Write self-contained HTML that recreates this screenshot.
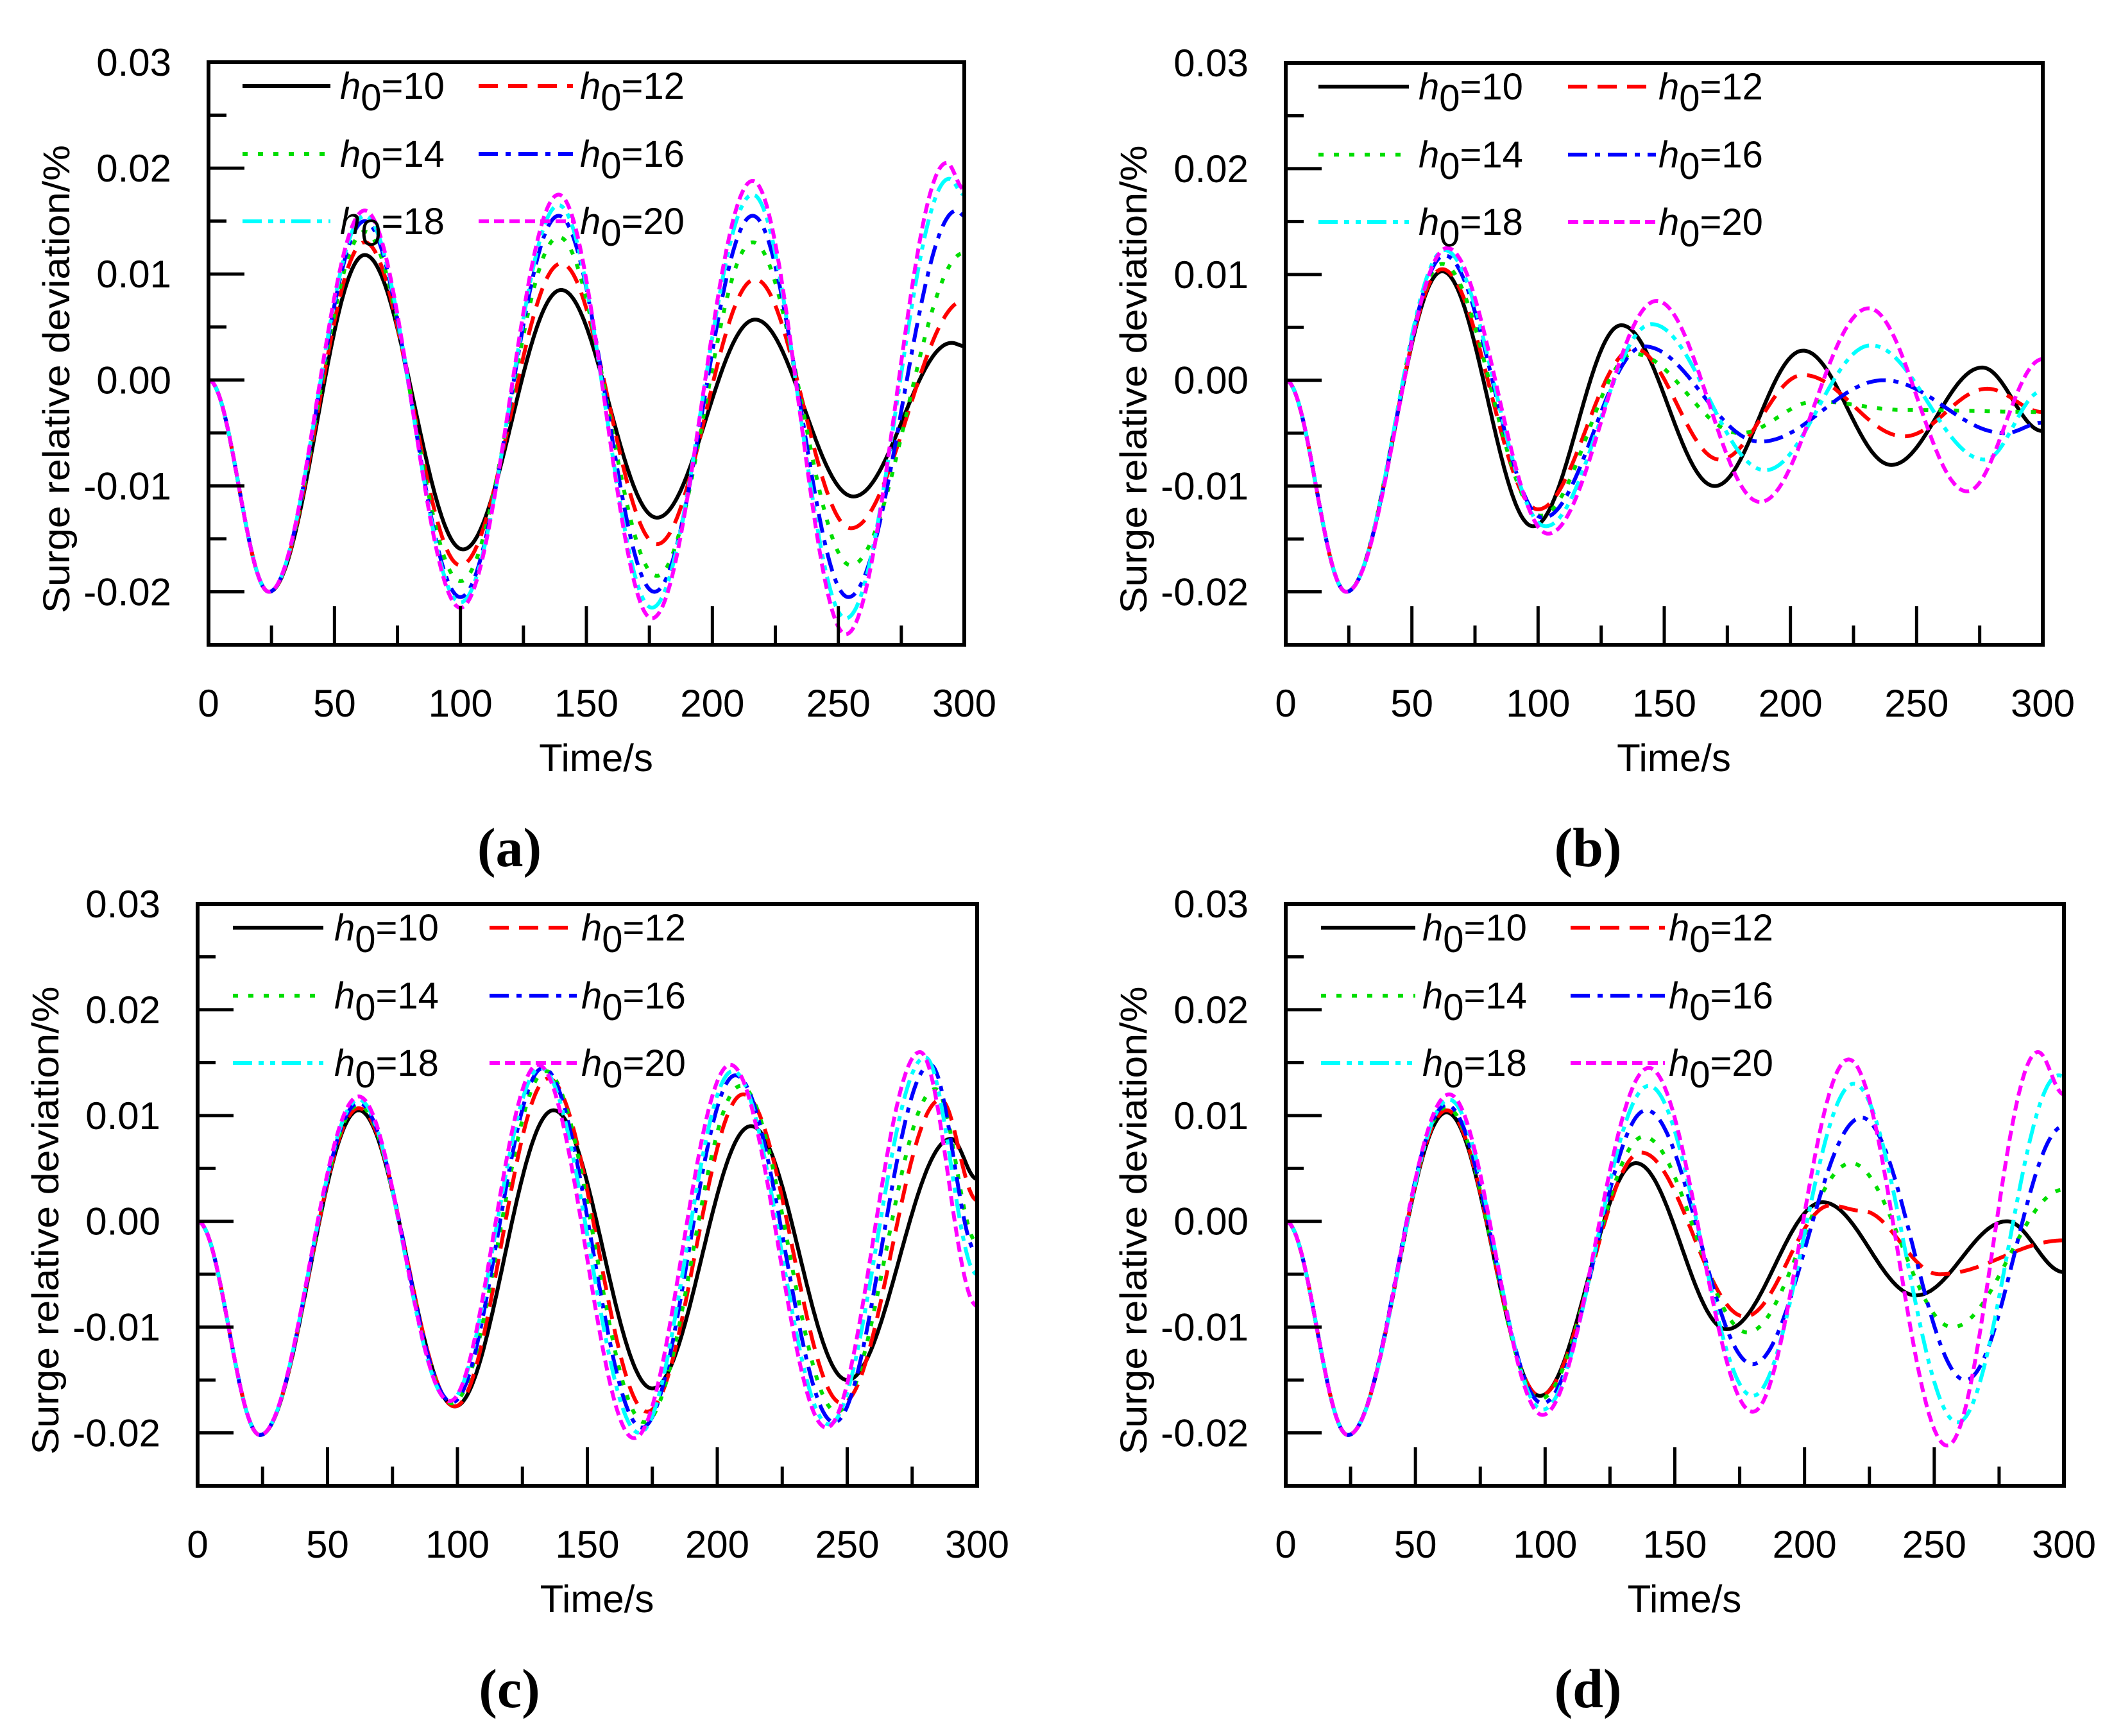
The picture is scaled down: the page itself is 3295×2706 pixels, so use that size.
<!DOCTYPE html>
<html><head><meta charset="utf-8"><style>
html,body{margin:0;padding:0;background:#fff}
svg{display:block}
text{font-family:"Liberation Sans",sans-serif;fill:#000}
</style></head><body>
<svg id="fig" width="3295" height="2706" viewBox="0 0 3295 2706" xmlns="http://www.w3.org/2000/svg"></svg>
<script>
// ---- data (time in s, surge relative deviation in %) at local extrema ----
const xTicks = [0, 50, 100, 150, 200, 250, 300];
const yTicks = [-0.02, -0.01, 0.00, 0.01, 0.02, 0.03];
const yTickLabels = ["-0.02", "-0.01", "0.00", "0.01", "0.02", "0.03"];
const seriesNames = ["10", "12", "14", "16", "18", "20"];

// panel a
const a_h10_t = [0,24,62,101,140,178,217,256,295,300];
const a_h10_v = [0,-0.0200,0.0118,-0.0160,0.0085,-0.0130,0.0057,-0.0110,0.0035,0.0032];
const a_h12_t = [0,24,62,100,140,178,217,255,300];
const a_h12_v = [0,-0.0200,0.0130,-0.0175,0.0110,-0.0155,0.0095,-0.0140,0.0075];
const a_h14_t = [0,24,62,100,139,178,216,255,300];
const a_h14_v = [0,-0.0200,0.0140,-0.0190,0.0135,-0.0185,0.0130,-0.0175,0.0120];
const a_h16_t = [0,24,62,100,139,177,216,254,297,300];
const a_h16_v = [0,-0.0200,0.0150,-0.0205,0.0155,-0.0200,0.0155,-0.0205,0.0160,0.0155];
const a_h18_t = [0,24,62,100,139,176,216,253,294,300];
const a_h18_v = [0,-0.0200,0.0155,-0.0210,0.0165,-0.0215,0.0175,-0.0225,0.0190,0.0175];
const a_h20_t = [0,24,62,100,139,176,216,253,293,300];
const a_h20_v = [0,-0.0200,0.0160,-0.0215,0.0175,-0.0225,0.0188,-0.0240,0.0205,0.0180];

// panel b
const b_h10_t = [0,24,62,98,133,170,205,240,276,300];
const b_h10_v = [0,-0.0200,0.0103,-0.0138,0.0052,-0.0100,0.0028,-0.0080,0.0012,-0.0048];
const b_h12_t = [0,24,62,100,138,172,205,245,278,300];
const b_h12_v = [0,-0.0200,0.0105,-0.0122,0.0030,-0.0075,0.0005,-0.0053,-0.0008,-0.0030];
const b_h14_t = [0,24,62,101,138,180,210,245,300];
const b_h14_v = [0,-0.0200,0.0110,-0.0128,0.0025,-0.0050,-0.0020,-0.0028,-0.0030];
const b_h16_t = [0,24,63,102,142,188,237,285,300];
const b_h16_v = [0,-0.0200,0.0118,-0.0130,0.0032,-0.0058,0.0000,-0.0050,-0.0040];
const b_h18_t = [0,24,63,103,145,190,232,277,300];
const b_h18_v = [0,-0.0200,0.0123,-0.0138,0.0053,-0.0085,0.0033,-0.0075,-0.0010];
const b_h20_t = [0,24,64,104,147,188,231,270,300];
const b_h20_v = [0,-0.0200,0.0125,-0.0145,0.0075,-0.0115,0.0068,-0.0105,0.0020];

// panel c
const c_h10_t = [0,24,62,99,137,175,213,250,290,300];
const c_h10_v = [0,-0.0202,0.0105,-0.0175,0.0105,-0.0158,0.0090,-0.0150,0.0078,0.0040];
const c_h12_t = [0,24,62,99,135,173,210,248,286,300];
const c_h12_v = [0,-0.0202,0.0107,-0.0175,0.0135,-0.0180,0.0120,-0.0172,0.0115,0.0020];
const c_h14_t = [0,24,62,98,134,172,209,246,284,300];
const c_h14_v = [0,-0.0202,0.0110,-0.0172,0.0142,-0.0190,0.0128,-0.0180,0.0125,-0.0020];
const c_h16_t = [0,24,62,98,133,171,207,245,282,300];
const c_h16_v = [0,-0.0202,0.0112,-0.0171,0.0145,-0.0195,0.0138,-0.0190,0.0148,-0.0030];
const c_h18_t = [0,24,62,97,132,170,206,243,280,300];
const c_h18_v = [0,-0.0202,0.0115,-0.0170,0.0145,-0.0200,0.0142,-0.0192,0.0155,-0.0050];
const c_h20_t = [0,24,62,97,131,168,205,242,278,300];
const c_h20_v = [0,-0.0202,0.0118,-0.0170,0.0148,-0.0205,0.0148,-0.0195,0.0160,-0.0080];

// panel d
const d_h10_t = [0,24,62,98,135,170,207,243,278,300];
const d_h10_v = [0,-0.0202,0.0103,-0.0165,0.0055,-0.0102,0.0018,-0.0070,0.0000,-0.0048];
const d_h12_t = [0,24,62,98,137,177,210,222,252,300];
const d_h12_v = [0,-0.0202,0.0105,-0.0165,0.0065,-0.0090,0.0015,0.0010,-0.0050,-0.0018];
const d_h14_t = [0,24,62,98,138,178,218,257,300];
const d_h14_v = [0,-0.0202,0.0108,-0.0168,0.0080,-0.0105,0.0055,-0.0100,0.0030];
const d_h16_t = [0,24,62,99,139,180,222,262,300];
const d_h16_v = [0,-0.0202,0.0110,-0.0172,0.0105,-0.0135,0.0098,-0.0150,0.0090];
const d_h18_t = [0,24,63,99,140,180,219,259,298,300];
const d_h18_v = [0,-0.0202,0.0115,-0.0178,0.0128,-0.0165,0.0130,-0.0190,0.0138,0.0137];
const d_h20_t = [0,24,63,99,140,180,217,255,290,300];
const d_h20_v = [0,-0.0202,0.0120,-0.0183,0.0145,-0.0180,0.0153,-0.0212,0.0160,0.0120];

const NS = "http://www.w3.org/2000/svg";
const svg = document.getElementById("fig");
function mk(tag, attrs, parent) {
  const e = document.createElementNS(NS, tag);
  for (const k in attrs) e.setAttribute(k, attrs[k]);
  (parent || svg).appendChild(e);
  return e;
}
const styles = [
  {c:"#000000", d:""},
  {c:"#ff0000", d:"30 16"},
  {c:"#00dd00", d:"8 16"},
  {c:"#0000ff", d:"30 12 8 12"},
  {c:"#00ffff", d:"30 10 8 10 8 10"},
  {c:"#ff00ff", d:"16 8"}
];
const panels = [
  {id:"a", L:325, T:97, R:1503, B:1005, lab:794,
   leg:{l1:[53,190], t1:205, l2:[421,568], t2:579},
   series:[[a_h10_t,a_h10_v],[a_h12_t,a_h12_v],[a_h14_t,a_h14_v],[a_h16_t,a_h16_v],[a_h18_t,a_h18_v],[a_h20_t,a_h20_v]]},
  {id:"b", L:2004, T:98, R:3184, B:1005, lab:2475,
   leg:{l1:[51,192], t1:207, l2:[440,577], t2:581},
   series:[[b_h10_t,b_h10_v],[b_h12_t,b_h12_v],[b_h14_t,b_h14_v],[b_h16_t,b_h16_v],[b_h18_t,b_h18_v],[b_h20_t,b_h20_v]]},
  {id:"c", L:308, T:1409, R:1523, B:2316, lab:794,
   leg:{l1:[55,196], t1:213, l2:[455,591], t2:598},
   series:[[c_h10_t,c_h10_v],[c_h12_t,c_h12_v],[c_h14_t,c_h14_v],[c_h16_t,c_h16_v],[c_h18_t,c_h18_v],[c_h20_t,c_h20_v]]},
  {id:"d", L:2004, T:1409, R:3217, B:2316, lab:2475,
   leg:{l1:[55,202], t1:213, l2:[444,591], t2:597},
   series:[[d_h10_t,d_h10_v],[d_h12_t,d_h12_v],[d_h14_t,d_h14_v],[d_h16_t,d_h16_v],[d_h18_t,d_h18_v],[d_h20_t,d_h20_v]]}
];
const X0 = 0, X1 = 300, Y0 = -0.025, Y1 = 0.03;

panels.forEach(p => {
  const g = mk("g", {});
  
  
  const sx = t => p.L + (t - X0) / (X1 - X0) * (p.R - p.L);
  const sy = v => p.B - (v - Y0) / (Y1 - Y0) * (p.B - p.T);
  // clip
  const cp = mk("clipPath", {id:"clip-" + p.id}, g);
  mk("rect", {x:p.L, y:p.T, width:p.R - p.L, height:p.B - p.T}, cp);

  // series
  const sg = mk("g", {"clip-path":"url(#clip-" + p.id + ")"}, g);
  p.series.forEach((s, i) => {
    const ts = s[0], vs = s[1];
    let d = "";
    for (let k = 0; k < ts.length - 1; k++) {
      const ta = ts[k], tb = ts[k+1], va = vs[k], vb = vs[k+1];
      const n = Math.max(4, Math.round((tb - ta) * 2));
      for (let j = (k === 0 ? 0 : 1); j <= n; j++) {
        const f = j / n;
        const t = ta + (tb - ta) * f;
        const v = va + (vb - va) * (1 - Math.cos(Math.PI * f)) / 2;
        d += (d === "" ? "M" : "L") + sx(t).toFixed(1) + " " + sy(v).toFixed(1);
      }
    }
    const path = mk("path", {d:d, fill:"none", stroke:styles[i].c, "stroke-width":6,
      "stroke-dasharray":styles[i].d, "stroke-linejoin":"round"}, sg);
    
    
  });

  // frame
  const fr = mk("rect", {x:p.L, y:p.T, width:p.R - p.L, height:p.B - p.T, fill:"none", stroke:"#000", "stroke-width":6}, g);
  
  

  // y ticks
  yTicks.forEach((v, i) => {
    const y = sy(v);
    if (i < yTicks.length - 1) mk("line", {x1:p.L, x2:p.L + 56, y1:y, y2:y, stroke:"#000", "stroke-width":5}, g);
    const ym = sy(v + 0.005);
    if (v + 0.005 < Y1) mk("line", {x1:p.L, x2:p.L + 28, y1:ym, y2:ym, stroke:"#000", "stroke-width":5}, g);
    const tl = mk("text", {x:p.L - 58, y:y + 21, "font-size":60, "text-anchor":"end"}, g);
    tl.textContent = yTickLabels[i];
    
    
  });
  // x ticks
  xTicks.forEach((t, i) => {
    const x = sx(t);
    if (i > 0 && i < xTicks.length - 1) mk("line", {x1:x, x2:x, y1:p.B, y2:p.B - 60, stroke:"#000", "stroke-width":5}, g);
    if (t + 25 < X1) { const xm = sx(t + 25); mk("line", {x1:xm, x2:xm, y1:p.B, y2:p.B - 30, stroke:"#000", "stroke-width":5}, g); }
    const tl = mk("text", {x:x, y:p.B + 112, "font-size":60, "text-anchor":"middle"}, g);
    tl.textContent = String(t);
    
    
  });
  // axis titles
  const xt = mk("text", {x:(p.L + p.R) / 2 + 15, y:p.B + 197, "font-size":60, "text-anchor":"middle"}, g);
  xt.textContent = "Time/s";
  
  
  const cy = (p.T + p.B) / 2 + 40, cx = p.L - 237;
  const yt = mk("text", {x:cx, y:cy, "font-size":58, "text-anchor":"middle",
    transform:"rotate(-90 " + cx + " " + cy + ") translate(0 20)", textLength:730, lengthAdjust:"spacingAndGlyphs"}, g);
  yt.textContent = "Surge relative deviation/%";
  
  

  // legend
  const rows = [37, 143, 248];
  seriesNames.forEach((nm, i) => {
    const r = rows[Math.floor(i / 2)] + p.T, col = i % 2;
    const lx = col === 0 ? p.leg.l1 : p.leg.l2, tx = col === 0 ? p.leg.t1 : p.leg.t2;
    const lg = mk("g", {}, g);
    
    
    mk("line", {x1:p.L + lx[0], x2:p.L + lx[1], y1:r, y2:r, stroke:styles[i].c, "stroke-width":6, "stroke-dasharray":styles[i].d}, lg);
    const t = mk("text", {x:p.L + tx, y:r + 20, "font-size":58}, lg);
    const h = mk("tspan", {"font-style":"italic"}, t); h.textContent = "h";
    const s0 = mk("tspan", {dy:18}, t); s0.textContent = "0";
    const rest = mk("tspan", {dy:-18}, t); rest.textContent = "=" + nm;
  });

  // panel label
  const pl = mk("text", {x:p.lab, y:p.B + 345, "font-size":86, "text-anchor":"middle",
    style:"font-family:'Liberation Serif',serif;font-weight:bold"}, g);
  pl.textContent = "(" + p.id + ")";
  
  
});
</script>
</body></html>
